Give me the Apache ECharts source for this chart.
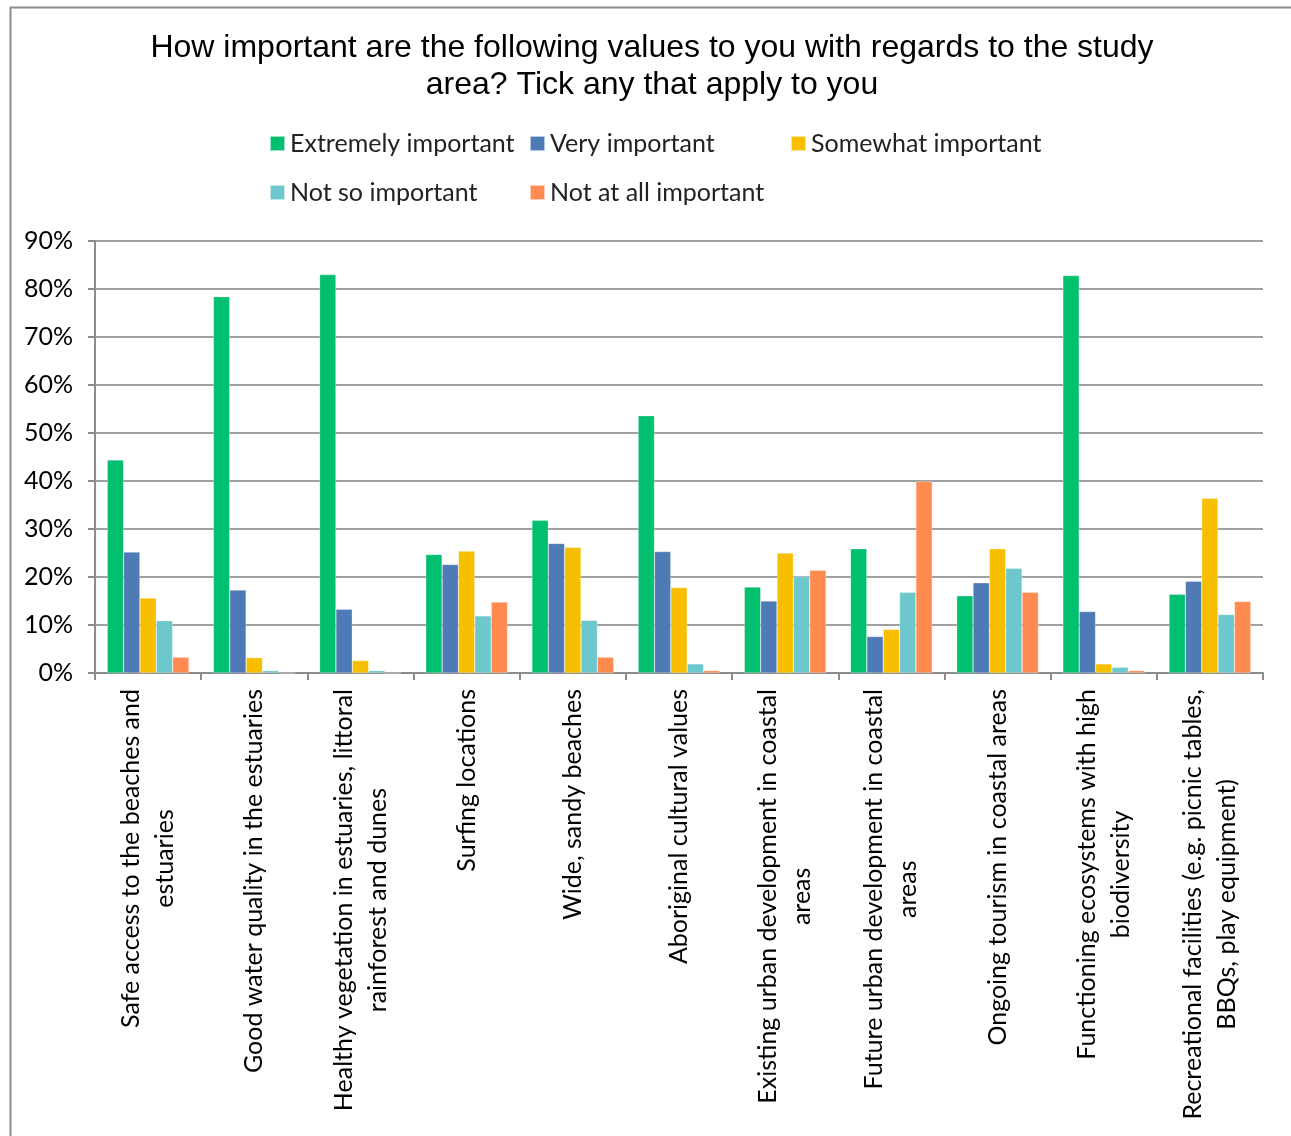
<!DOCTYPE html>
<html>
<head>
<meta charset="utf-8">
<script src="https://cdn.jsdelivr.net/npm/echarts@6/dist/echarts.min.js"></script>
<style>html,body{margin:0;padding:0;background:#fff;}#c{width:1291px;height:1136px;}</style>
</head>
<body>
<div id="c"></div>
<script>
const categories = [
  "Safe access to the beaches and\nestuaries",
  "Good water quality in the estuaries",
  "Healthy vegetation in estuaries, littoral\nrainforest and dunes",
  "Surfing locations",
  "Wide, sandy beaches",
  "Aboriginal cultural values",
  "Existing urban development in coastal\nareas",
  "Future urban development in coastal\nareas",
  "Ongoing tourism in coastal areas",
  "Functioning ecosystems with high\nbiodiversity",
  "Recreational facilities (e.g. picnic tables,\nBBQs, play equipment)"
];
const seriesNames = ["Extremely important","Very important","Somewhat important","Not so important","Not at all important"];
const extremely = [44.4, 78.4, 83.0, 24.7, 31.8, 53.6, 17.9, 25.9, 16.1, 82.8, 16.4];
const very      = [25.2, 17.3, 13.3, 22.6, 27.0, 25.3, 15.0,  7.6, 18.8, 12.8, 19.1];
const somewhat  = [15.6,  3.2,  2.6, 25.4, 26.2, 17.8, 25.0,  9.1, 25.9,  1.9, 36.4];
const notSo     = [10.9,  0.5,  0.5, 11.9, 11.0,  1.9, 20.1, 16.8, 21.8,  1.2, 12.2];
const notAtAll  = [ 3.3,  0.0,  0.0, 14.8,  3.3,  0.5, 21.4, 39.9, 16.8,  0.5, 14.9];
const yTicks = [0,10,20,30,40,50,60,70,80,90];
const colors = ["#00BF6F","#4E7AB5","#F8BE00","#6CC8CC","#FF8B50"];

const chart = echarts.init(document.getElementById('c'), null, {renderer:'canvas'});
const values = [extremely, very, somewhat, notSo, notAtAll];
const legendPos = [[269,131],[529,131],[790,131],[269,180],[529,180]];
const labelFont = "Lato";
chart.setOption({
  animation:false,
  graphic:[{type:'rect',left:8,top:5,shape:{width:1400,height:1300},style:{fill:'none',stroke:'#8c8c8c',lineWidth:2}}],
  title:{
    text:"How important are the following values to you with regards to the study\narea? Tick any that apply to you",
    left:647, top:25, textAlign:'center',
    textStyle:{fontFamily:'Liberation Sans',fontSize:32,fontWeight:'normal',color:'#000',lineHeight:37}
  },
  legend: seriesNames.map((n,i)=>({
    data:[n], left:legendPos[i][0], top:legendPos[i][1], itemWidth:15, itemHeight:15, itemGap:6,
    icon:'rect', textStyle:{fontFamily:labelFont,fontSize:25,color:'#222'}, padding:0
  })),
  grid:{left:95,right:28,top:241,bottom:463,containLabel:false},
  xAxis:{
    type:'category', data:categories,
    axisLine:{lineStyle:{color:'#8c8c8c',width:2}},
    axisTick:{show:true,length:7,lineStyle:{color:'#8c8c8c',width:2},alignWithLabel:false},
    axisLabel:{rotate:90,interval:0,fontFamily:labelFont,fontSize:25,color:'#000',lineHeight:34,margin:16,
      formatter:v=>v.split('\n').map(s=>'{c|'+s+'}').join('\n'),
      rich:{c:{align:'center',fontFamily:labelFont,fontSize:25,color:'#000',lineHeight:34}}}
  },
  yAxis:{
    type:'value', min:0, max:90, interval:10,
    axisLine:{show:true,lineStyle:{color:'#8c8c8c',width:2}},
    axisTick:{show:true,length:7,lineStyle:{color:'#8c8c8c',width:2}},
    splitLine:{lineStyle:{color:'#a0a0a0',width:2}},
    axisLabel:{formatter:v=>v+'%',fontFamily:labelFont,fontSize:25,color:'#000',margin:22}
  },
  series: seriesNames.map((n,i)=>({
    name:n, type:'bar', data:values[i], barGap:'0%', barCategoryGap:'23%',
    itemStyle:{color:colors[i],borderColor:'rgba(255,255,255,0.6)',borderWidth:0.5}
  }))
});
</script>
</body>
</html>
